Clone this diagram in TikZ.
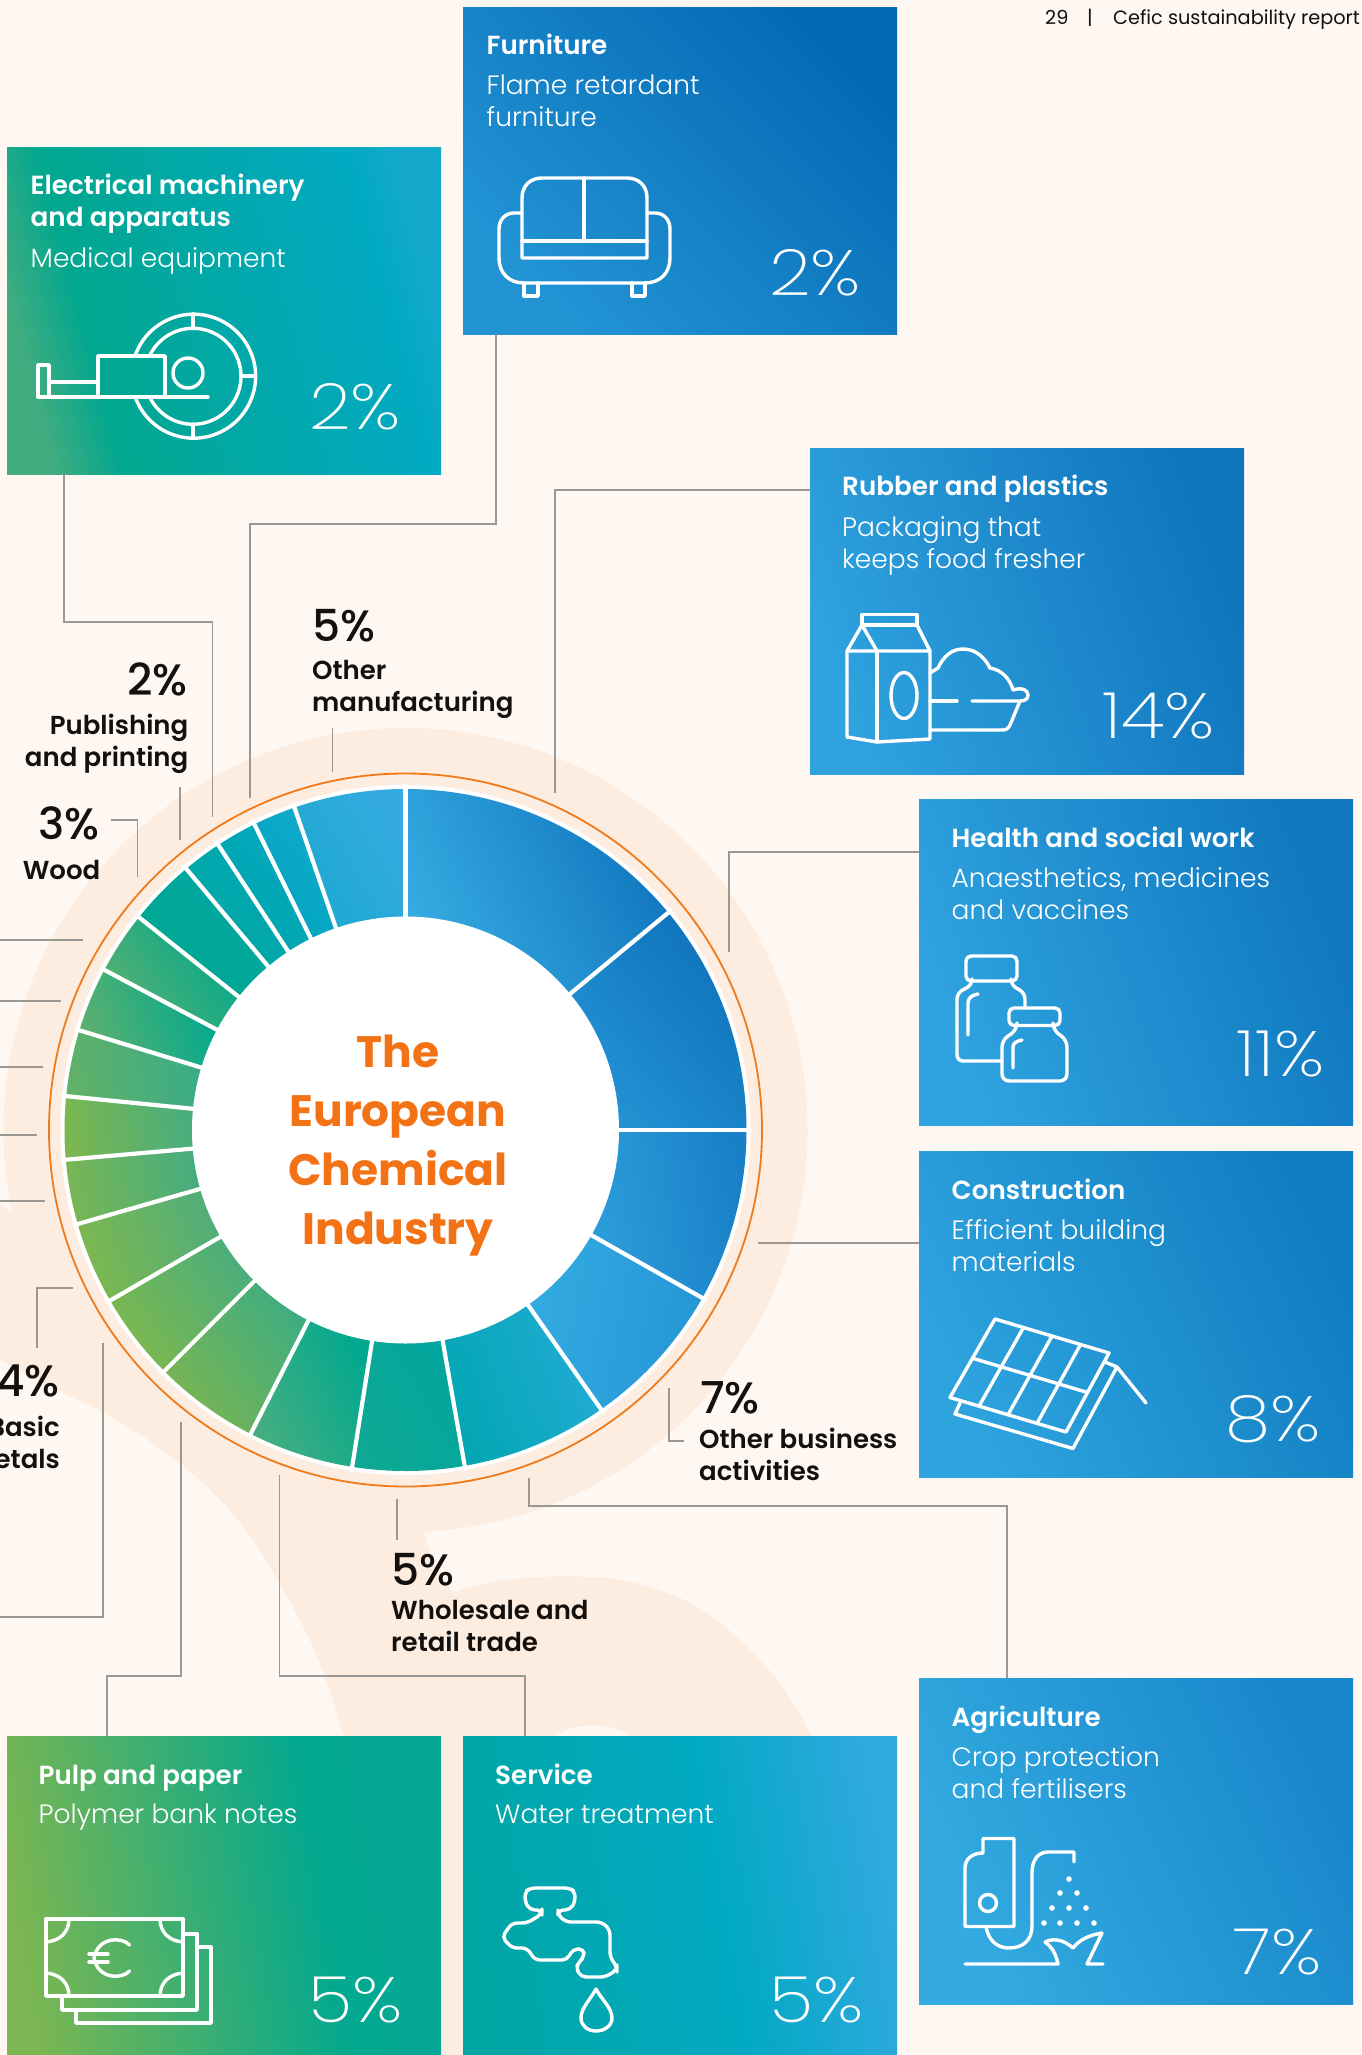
\documentclass[tikz,border=0pt]{standalone}
\usepackage{fontspec}
\setmainfont{Poppins}
\newfontfamily\fbold{Poppins SemiBold}
\newfontfamily\fheavy{Poppins Bold}
\newfontfamily\fbook{Poppins Light}
\newfontfamily\fthin{Poppins ExtraLight}[FakeStretch=1.14]
\newfontfamily\fmed{Poppins Medium}
\usetikzlibrary{calc}
\definecolor{bg}{HTML}{FFF7F1}
\definecolor{pale}{HTML}{FDEDE1}
\definecolor{orng}{HTML}{F07A1A}
\definecolor{titleor}{HTML}{F47216}
\definecolor{ink}{HTML}{14100E}
\definecolor{connc}{HTML}{9B9793}
\newcommand\twostop[3]{\definecolor{#1a}{HTML}{#2}\definecolor{#1b}{HTML}{#3}%
 \pgfdeclarehorizontalshading{#1}{100bp}{color(0bp)=(#1a);color(25bp)=(#1a);color(75bp)=(#1b);color(100bp)=(#1b)}}
\twostop{furnS}{2294D4}{056AB5}
\twostop{rubbS}{2FA2DF}{0F75BC}
\twostop{hlthS}{2FA3DF}{0F78BF}
\twostop{consS}{2EA4DF}{107DC1}
\twostop{agriS}{33ABE1}{1887CA}
\definecolor{ea}{HTML}{40AC80}\definecolor{eb}{HTML}{02A78F}\definecolor{ec}{HTML}{02A9C4}\definecolor{ed}{HTML}{14A9CC}
\pgfdeclarehorizontalshading{elecS}{100bp}{color(0bp)=(ea);color(25bp)=(ea);color(33bp)=(eb);color(70bp)=(ec);color(75bp)=(ed);color(100bp)=(ed)}
\definecolor{pa}{HTML}{7BB652}\definecolor{pb}{HTML}{02A88F}\definecolor{pc}{HTML}{07A798}
\pgfdeclarehorizontalshading{pulpS}{100bp}{color(0bp)=(pa);color(25bp)=(pa);color(62bp)=(pb);color(75bp)=(pc);color(100bp)=(pc)}
\definecolor{sa}{HTML}{00A6A4}\definecolor{sb}{HTML}{02A9C4}\definecolor{sc}{HTML}{30A9DF}
\pgfdeclarehorizontalshading{servS}{100bp}{color(0bp)=(sa);color(25bp)=(sa);color(55bp)=(sb);color(75bp)=(sc);color(100bp)=(sc)}
\newcommand\seg[5]{\definecolor{ca}{HTML}{#3}\definecolor{cb}{HTML}{#4}%
  \shade[top color=ca,bottom color=cb,shading angle=#5] ([shift={(#1-90:341)}]cen) arc[start angle=#1-90,end angle=#2-90,radius=341] -- ([shift={(#2-90:213)}]cen) arc[start angle=#2-90,end angle=#1-90,radius=213] -- cycle;}
\tikzset{
  card/.style={anchor=north west,inner sep=0pt,minimum width=434pt,minimum height=#1,shade},
  conn/.style={draw=connc,line width=1.1pt},
  icon/.style={draw=white,line width=3.4pt,line join=round,line cap=round},
  ttl/.style={anchor=base west,inner sep=0pt,text=white,align=left,font=\fbold\fontsize{26.2}{32}\selectfont},
  bdy/.style={anchor=base west,inner sep=0pt,text=white,align=left,font=\fbook\fontsize{26.5}{32}\selectfont},
  pct/.style={anchor=base east,inner sep=0pt,text=white,font=\fthin\fontsize{64}{64}\selectfont},
  bigp/.style={inner sep=0pt,text=ink,font=\fmed\fontsize{44}{44}\selectfont},
  lbl/.style={inner sep=0pt,text=ink,font=\fbold\fontsize{26}{32}\selectfont},
  hdr/.style={anchor=base west,inner sep=0pt,text=ink,font=\fontsize{19.3}{20}\selectfont},
  ctr/.style={inner sep=0pt,anchor=base,align=center,text=titleor,font=\fheavy\fontsize{44}{58.7}\selectfont}
}
\begin{document}
\begin{tikzpicture}[x=1pt,y=-1pt]
\useasboundingbox (0,0) rectangle (1361,2055);
\clip (0,0) rectangle (1361,2055);
\fill[bg] (0,0) rectangle (1361,2055);
\coordinate (cen) at (405.5,1130);
% pale backdrop
\fill[pale] (cen) circle[radius=402];
\fill[pale] (0,1203) -- (11,1213) -- (cen) -- (424,1535)
  .. controls (434,1565) and (444,1582) .. (453,1593)
  .. controls (490,1578) and (540,1575) .. (591,1577)
  .. controls (635,1578) and (685,1595) .. (717,1620)
  .. controls (765,1660) and (800,1700) .. (820,1760)
  -- (344,1760) -- (344,1736)
  .. controls (333,1700) and (322,1665) .. (310,1640)
  .. controls (290,1600) and (270,1565) .. (253,1540)
  .. controls (225,1500) and (195,1475) .. (172,1457)
  .. controls (130,1425) and (90,1405) .. (57,1390)
  .. controls (35,1378) and (15,1368) .. (0,1360) -- cycle;
\fill[pale] (430,1730) rectangle (470,2055);
\fill[bg] (554,1738) .. controls (570,1721) and (616,1721) .. (632,1738) -- cycle;
% ring
\draw[orng,line width=1.8pt] (cen) circle[radius=356.5];
\fill[white] (cen) circle[radius=345];
\seg{0}{50.4}{35ABE2}{1176BE}{115}
\seg{50.4}{90}{2293D3}{0F72BB}{130}
\seg{90}{119.5}{2C9DDB}{1880C6}{100}
\seg{119.5}{145}{32ABE1}{2595D6}{80}
\seg{145}{170}{02A6B2}{22ABD6}{110}
\seg{170}{189}{0EA894}{02A69E}{120}
\seg{189}{207}{45AE80}{00A88F}{115}
\seg{207}{225}{7AB552}{3FAD80}{125}
\seg{225}{240}{7DB84D}{4CAE7C}{125}
\seg{240}{254}{7DB84F}{52AE7A}{110}
\seg{254}{265}{77B655}{47AD7E}{100}
\seg{265}{275.7}{7BB650}{48AE7D}{100}
\seg{275.7}{287}{61B168}{3AAC88}{100}
\seg{287}{298}{5BB06E}{02A98F}{110}
\seg{298}{308.6}{58B070}{00A88E}{125}
\seg{308.6}{320}{00A890}{01A6A2}{135}
\seg{320}{326.7}{01A5A0}{03A9B6}{135}
\seg{326.7}{333.7}{00A5AE}{03A9BD}{135}
\seg{333.7}{341}{01A7C0}{10A8CC}{135}
\seg{341}{360}{1CA9CF}{35AAE0}{120}
\foreach \a in {0,50.4,90,119.5,145,170,189,207,225,240,254,265,275.7,287,298,308.6,320,326.7,333.7,341}
  \draw[white,line width=4.2pt] ([shift={(\a-90:210)}]cen) -- ([shift={(\a-90:346)}]cen);
\node[circle,fill=white,inner sep=0pt,minimum size=427pt] (core) at (cen) {};
\node[ctr] (centre) at (398,1244) {The\\European\\Chemical\\Industry};
% cards
\node[card=327pt,shading=elecS,shading angle=15] (elec) at (7,147) {};
\node[card=327pt,shading=furnS,shading angle=45] (furn) at (463,7) {};
\node[card=326pt,shading=rubbS,shading angle=20] (rubb) at (810,448) {};
\node[card=326pt,shading=hlthS,shading angle=20] (hlth) at (919,799) {};
\node[card=326pt,shading=consS,shading angle=25] (cons) at (919,1151) {};
\node[card=326pt,shading=agriS,shading angle=25] (agri) at (919,1678) {};
\node[card=319pt,shading=pulpS,shading angle=10] (pulp) at (7,1736) {};
\node[card=319pt,shading=servS,shading angle=10] (serv) at (463,1736) {};
% card text
\node[ttl] (elecT) at (30.5,226) {Electrical machinery\\and apparatus};
\node[bdy] (elecB) at (30.5,267) {Medical equipment};
\node[pct] (elecP) at (401,429) {2\%};
\node[ttl] (furnT) at (486.5,54.5) {Furniture};
\node[bdy] (furnB) at (486.5,127) {Flame retardant\\furniture};
\node[pct] (furnP) at (861,295) {2\%};
\node[ttl] (rubbT) at (842,495.5) {Rubber and plastics};
\node[bdy] (rubbB) at (842,568) {Packaging that\\keeps food fresher};
\node[pct] (rubbP) at (1215,738) {14\%};
\node[ttl] (hlthT) at (951.5,847) {Health and social work};
\node[bdy] (hlthB) at (951.5,919) {Anaesthetics, medicines\\and vaccines};
\node[pct] (hlthP) at (1325,1076) {11\%};
\node[ttl] (consT) at (951.5,1199) {Construction};
\node[bdy] (consB) at (951.5,1271) {Efficient building\\materials};
\node[pct] (consP) at (1321,1441) {8\%};
\node[ttl] (agriT) at (951.5,1726) {Agriculture};
\node[bdy] (agriB) at (951.5,1798) {Crop protection\\and fertilisers};
\node[pct] (agriP) at (1322,1974) {7\%};
\node[ttl] (pulpT) at (38.5,1784) {Pulp and paper};
\node[bdy] (pulpB) at (38.5,1823) {Polymer bank notes};
\node[pct] (pulpP) at (403,2022) {5\%};
\node[ttl] (servT) at (495,1784) {Service};
\node[bdy] (servB) at (495,1823) {Water treatment};
\node[pct] (servP) at (864,2022) {5\%};
% outer labels
\node[bigp,anchor=base west] (omP) at (312,641) {5\%};
\node[lbl,anchor=base west,align=left] (omL) at (312,711) {Other\\manufacturing};
\node[bigp,anchor=base east] (ppP) at (188,695) {2\%};
\node[lbl,anchor=base east,align=right] (ppL) at (188.5,766) {Publishing\\and printing};
\node[bigp,anchor=base east] (wdP) at (100,839) {3\%};
\node[lbl,anchor=base east] (wdL) at (100.5,879) {Wood};
\node[bigp,anchor=base east] (bmP) at (60,1396) {4\%};
\node[lbl,anchor=base east,align=right] (bmL) at (60,1468) {Basic\\metals};
\node[bigp,anchor=base west] (obP) at (700,1413) {7\%};
\node[lbl,anchor=base west,align=left] (obL) at (699,1480) {Other business\\activities};
\node[bigp,anchor=base west] (wsP) at (391,1585) {5\%};
\node[lbl,anchor=base west,align=left] (wsL) at (391,1651) {Wholesale and\\retail trade};
% header
\node[hdr] (pg) at (1045,25) {29};
\node[hdr] (bar) at (1087,25) {|};
\node[hdr] (rep) at (1113,25) {Cefic sustainability report};
% connector end points
\coordinate (e1) at (64,622); \coordinate (e2) at (212.5,622); \coordinate (e3) at (212.5,817);
\coordinate (f1) at (496,524); \coordinate (f2) at (250,524); \coordinate (f3) at (250,798);
\coordinate (r1) at (555,490); \coordinate (r2) at (555,793);
\coordinate (h1) at (729,852); \coordinate (h2) at (729,952);
\coordinate (c1) at (758,1243);
\coordinate (a1) at (529,1478); \coordinate (a2) at (529,1506); \coordinate (a3) at (1007,1506);
\coordinate (s1) at (279.6,1475); \coordinate (s2) at (279.6,1676); \coordinate (s3) at (525,1676);
\coordinate (p1) at (181,1422); \coordinate (p2) at (181,1676); \coordinate (p3) at (107,1676);
\coordinate (m1) at (103,1342.5); \coordinate (m2) at (103,1617); \coordinate (m3) at (0,1617);
\coordinate (t1a) at (332.5,728); \coordinate (t1b) at (332.5,772);
\coordinate (t2a) at (180,787); \coordinate (t2b) at (180,840);
\coordinate (t3a) at (111,820); \coordinate (t3b) at (137.5,820); \coordinate (t3c) at (137.5,877);
\coordinate (t4a) at (72.6,1288); \coordinate (t4b) at (37,1288); \coordinate (t4c) at (37,1348);
\coordinate (t5a) at (669,1388); \coordinate (t5b) at (669,1441); \coordinate (t5c) at (684,1441);
\coordinate (t6a) at (397,1499); \coordinate (t6b) at (397,1540);
\foreach \n/\yy/\xx in {l1/940/83,l2/1001/61,l3/1067/43,l4/1135/37,l5/1201/45}{
  \coordinate (\n a) at (0,\yy); \coordinate (\n b) at (\xx,\yy);
  \draw[conn] (\n a) -- (\n b);}
\draw[conn] (elec.south -| e1) -- (e1) -- (e2) -- (e3);
\draw[conn] (furn.south -| f1) -- (f1) -- (f2) -- (f3);
\draw[conn] (rubb.west |- r1) -- (r1) -- (r2);
\draw[conn] (hlth.west |- h1) -- (h1) -- (h2);
\draw[conn] (cons.west |- c1) -- (c1);
\draw[conn] (a1) -- (a2) -- (a3) -- (agri.north -| a3);
\draw[conn] (s1) -- (s2) -- (s3) -- (serv.north -| s3);
\draw[conn] (p1) -- (p2) -- (p3) -- (pulp.north -| p3);
\draw[conn] (m1) -- (m2) -- (m3);
\draw[conn] (t1a) -- (t1b);
\draw[conn] (t2a) -- (t2b);
\draw[conn] (t3a) -- (t3b) -- (t3c);
\draw[conn] (t4a) -- (t4b) -- (t4c);
\draw[conn] (t5a) -- (t5b) -- (t5c);
\draw[conn] (t6a) -- (t6b);
% --- icons ---
% electrical
\begin{scope}[icon]
\draw (135,356) arc[start angle=-161,end angle=160,radius=62];
\draw (149.5,356) arc[start angle=-155,end angle=154,radius=48];
\draw (193,314) -- (193,328) (241,376) -- (255,376) (193,424) -- (193,438);
\draw (188,373) circle[radius=15];
\draw (98,397) -- (98,356) -- (165,356) -- (165,397);
\draw (38,397) -- (208,397);
\draw (49,397) -- (49,365) -- (38,365) -- (38,397);
\draw (49,382) -- (98,382);
% furniture
\draw (522,258) -- (522,198) .. controls (522,186) and (530,178) .. (542,178) -- (627,178) .. controls (639,178) and (647,186) .. (647,198) -- (647,258) -- cycle;
\draw (522,241) -- (647,241) (584,178) -- (584,241);
\draw (522,213) -- (514,213) .. controls (505,213) and (499,220) .. (499,229) -- (499,258) .. controls (499,273) and (509,283) .. (524,283) -- (645,283) .. controls (660,283) and (670,273) .. (670,258) -- (670,229) .. controls (670,220) and (664,213) .. (655,213) -- (647,213);
\draw (524,283) -- (524,296) -- (538,296) -- (538,283);
\draw (632,283) -- (632,296) -- (645,296) -- (645,283);
% rubber: carton and tray
\draw (862,625) -- (862,614.5) -- (917,614.5) -- (917,625) -- cycle;
\draw (862,625) -- (847,651) -- (930,651) -- (917,625);
\draw (862,625) -- (877,651);
\draw (847,651) -- (847,737) -- (877,742) -- (930,739) -- (930,651);
\draw (877,651) -- (877,742);
\draw (904,695.5) ellipse[x radius=13,y radius=23];
\draw (930,673) -- (938,668) .. controls (944,655) and (953,649) .. (963,649) .. controls (976,649) and (985,658) .. (990,668) .. controls (1002,670) and (1010,679) .. (1013,690) .. controls (1022,687) and (1028,690) .. (1028,695) .. controls (1028,699) and (1025,701) .. (1020,701) -- (972,701);
\draw (957,701) -- (930,701);
\draw (1020,701) -- (1010,725) .. controls (1008,729) and (1006,730) .. (1002,730) -- (930,730);
% health
\draw[rounded corners=5pt] (966,956) rectangle (1017,981);
\draw[rounded corners=6pt] (972,981) -- (972,985) -- (957,993) -- (957,1061) -- (1002,1061);
\draw[rounded corners=6pt] (1011,981) -- (1011,985) -- (1025,993) -- (1025,1008);
\draw (968,1035) -- (968,1003) .. controls (968,998) and (972,995) .. (978,994);
\draw[rounded corners=5pt] (1009,1008) rectangle (1060,1025.5);
\draw[rounded corners=7pt] (1017,1025.5) -- (1017,1030) -- (1002,1040) -- (1002,1081) -- (1067,1081) -- (1067,1040) -- (1053,1030) -- (1053,1025.5);
\draw (1013,1068) -- (1013,1047) .. controls (1013,1043) and (1017,1041) .. (1022,1040);
% construction
\coordinate (ca) at (995,1319); \coordinate (cb) at (1109,1353); \coordinate (cc) at (1066,1432); \coordinate (cd) at (950,1397.5);
\draw (ca) -- (cb) -- (cc) -- (cd) -- cycle;
\foreach \t in {.25,.5,.75} \draw ($(ca)!\t!(cb)$) -- ($(cd)!\t!(cc)$);
\draw ($(ca)!.5!(cd)$) -- ($(cb)!.5!(cc)$);
\draw (960,1403) -- (955,1414) -- (1073,1448.5) -- (1117,1367) -- (1105,1362);
\draw (1117,1367) -- (1146,1403);
% agriculture
\begin{scope}[shift={(0,-6)}]
\draw (983,1844.5) -- (1014,1844.5) -- (1014,1932.5) -- (965,1932.5) -- (965,1874) .. controls (965,1865) and (972,1859) .. (983,1859) -- cycle;
\draw (988,1909) circle[radius=8.5];
\draw (986,1932.5) .. controls (988,1946) and (997,1954) .. (1009,1954) .. controls (1023,1954) and (1032,1946) .. (1032,1932) -- (1032,1879) .. controls (1032,1866) and (1038,1858) .. (1048,1858) -- (1074,1858) -- (1074,1868);
\draw (965,1970) -- (1058,1970) .. controls (1056,1960) and (1052,1953) .. (1045,1948) .. controls (1055,1943) and (1065,1947) .. (1073,1954) .. controls (1080,1945) and (1090,1941) .. (1102,1939) -- (1087,1970) -- (1103,1970);
\end{scope}
% pulp
\draw (46,1919) rectangle (183,1996);
\draw (69,1919) .. controls (69,1932) and (60,1941) .. (46,1942);
\draw (160,1919) .. controls (160,1932) and (169,1941) .. (183,1942);
\draw (69,1996) .. controls (69,1983) and (60,1974) .. (46,1973);
\draw (160,1996) .. controls (160,1983) and (169,1974) .. (183,1973);
\draw (129.5,1945) .. controls (123,1937) and (98,1936) .. (94,1958) .. controls (98,1980) and (123,1979) .. (129.5,1971);
\draw (89,1954) -- (108,1954) (89,1962) -- (108,1962);
\draw (183,1934) -- (197,1934) -- (197,2010) -- (62,2010) -- (62,1996);
\draw (197,1947) -- (211,1947) -- (211,2023) -- (76,2023) -- (76,2010);
% service
\draw[rounded corners=5pt] (542,1914) -- (542,1910) -- (530,1910) -- (525,1902) -- (525,1892) -- (530,1888) -- (570,1888) -- (575,1892) -- (575,1902) -- (570,1910) -- (558,1910) -- (558,1915) -- (566,1922) -- (602,1922) -- (610,1930) -- (610,1957) -- (617,1967) -- (617,1970) -- (605,1977) -- (581,1977) -- (576,1968) -- (579,1962) -- (584,1957) -- (584,1949) -- (573,1949) -- (567,1960) -- (535,1960) -- (527,1948) -- (512,1948) -- (502,1937) -- (512,1923) -- (527,1923) -- cycle;
\draw (596,1989) .. controls (590,2000) and (581,2008) .. (581,2018) .. controls (581,2026) and (588,2031) .. (596,2031) .. controls (604,2031) and (612,2026) .. (612,2018) .. controls (612,2008) and (602,2000) .. (596,1989) -- cycle;
\end{scope}
\foreach \x/\y in {1069/1879,1060/1893,1077/1893,1052/1908,1069/1908,1086/1908,1044/1923,1060/1923,1077/1923,1094/1923}
  \fill[white] (\x,\y) circle[radius=2.8];
\end{tikzpicture}
\end{document}
